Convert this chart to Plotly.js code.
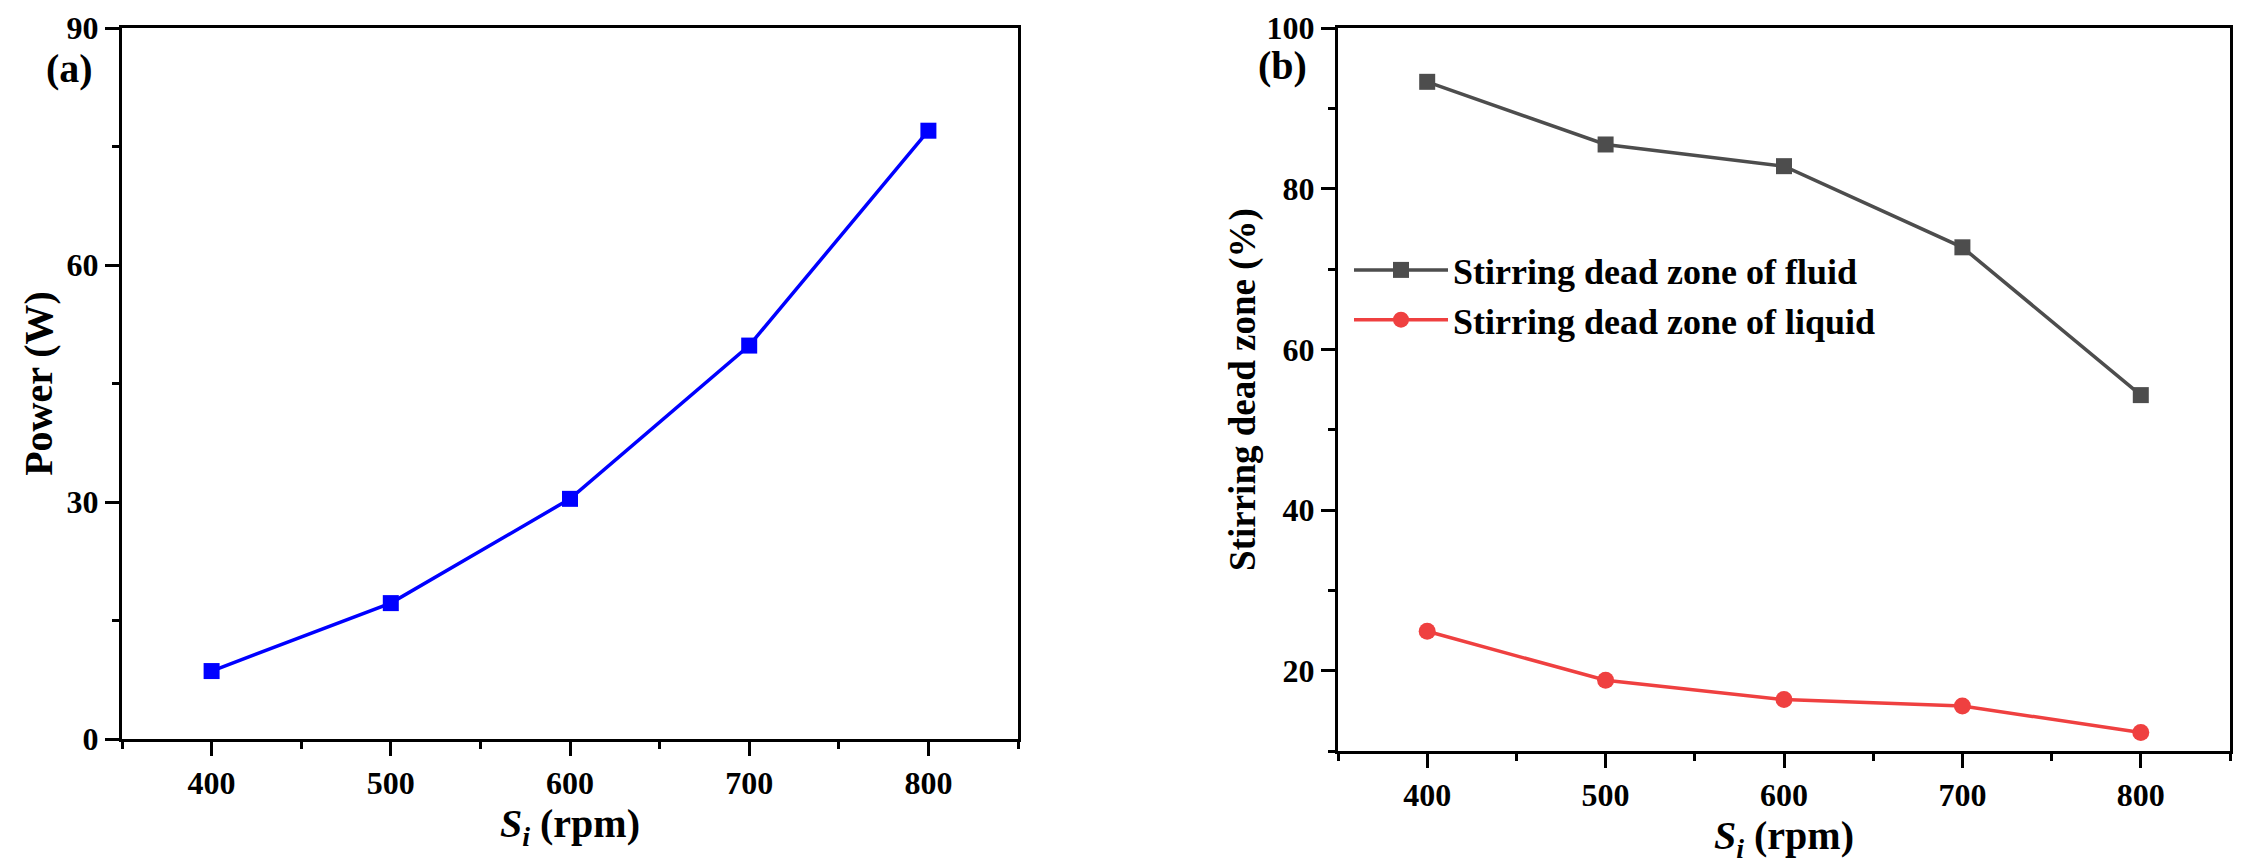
<!DOCTYPE html>
<html>
<head>
<meta charset="utf-8">
<script src="https://cdn.plot.ly/plotly-3.0.1.min.js"></script>
<style>
  html, body { margin: 0; padding: 0; background: #fff; }
  #graph { width: 2248px; height: 867px; }
</style>
</head>
<body>
<div id="graph"></div>
<script>
// stirring speed (rpm)
var speed = [400, 500, 600, 700, 800];

// (a) power consumption (W)
var power = [8.6, 17.2, 30.4, 49.8, 77.0];

// (b) stirring dead zone (%)
var deadFluid = [93.3, 85.5, 82.8, 72.7, 54.3];
var deadLiquid = [24.9, 18.8, 16.4, 15.6, 12.3];

var seriesNames = ['Stirring dead zone of fluid', 'Stirring dead zone of liquid'];

var FONT = '"Liberation Serif", "Times New Roman", serif';
var W = 2248, H = 867;

function px(x){ return x / W; }
function py(y){ return (H - y) / H; }

var trace1 = {
  x: speed, y: power,
  mode: 'lines+markers', type: 'scatter',
  xaxis: 'x', yaxis: 'y',
  line: {color: '#0000ff', width: 3.5},
  marker: {symbol: 'square', size: 16, color: '#0000ff'},
  showlegend: false
};

var trace2 = {
  x: speed, y: deadFluid,
  mode: 'lines+markers', type: 'scatter',
  xaxis: 'x2', yaxis: 'y2',
  name: seriesNames[0],
  line: {color: '#4d4d4d', width: 3.5},
  marker: {symbol: 'square', size: 16, color: '#4d4d4d'}
};

var trace3 = {
  x: speed, y: deadLiquid,
  mode: 'lines+markers', type: 'scatter',
  xaxis: 'x2', yaxis: 'y2',
  name: seriesNames[1],
  line: {color: '#ef4040', width: 3.5},
  marker: {symbol: 'circle', size: 17, color: '#ef4040'}
};

var data = [trace1, trace2, trace3];

function baseAxis(){
  return {
    showline: true, linecolor: '#000', linewidth: 3, mirror: true,
    ticks: 'outside', ticklen: 14, tickwidth: 3, tickcolor: '#000',
    showgrid: false, zeroline: false,
    tickfont: {family: FONT, size: 32, color: '#000', weight: 'bold'},
    fixedrange: true
  };
}

var xa = baseAxis();
xa.domain = [px(122), px(1018)];
xa.range = [350, 850];
xa.tick0 = 400; xa.dtick = 100;
xa.minor = {ticks: 'outside', ticklen: 7, tickwidth: 3, tickcolor: '#000', dtick: 50, tick0: 350};
xa.anchor = 'y';
xa.title = {text: '<i>S</i><sub><i>i</i></sub> (rpm)', font: {family: FONT, size: 40, color: '#000', weight: 'bold'}, standoff: 6};

var ya = baseAxis();
ya.domain = [py(739), py(28)];
ya.range = [0, 90];
ya.tick0 = 0; ya.dtick = 30;
ya.minor = {ticks: 'outside', ticklen: 7, tickwidth: 3, tickcolor: '#000', dtick: 15};
ya.anchor = 'x';
ya.title = {text: 'Power (W)', font: {family: FONT, size: 40, color: '#000', weight: 'bold'}, standoff: 2};

var xb = baseAxis();
xb.domain = [px(1338), px(2230)];
xb.range = [350, 850];
xb.tick0 = 400; xb.dtick = 100;
xb.minor = {ticks: 'outside', ticklen: 7, tickwidth: 3, tickcolor: '#000', dtick: 50, tick0: 350};
xb.anchor = 'y2';
xb.title = {text: '<i>S</i><sub><i>i</i></sub> (rpm)', font: {family: FONT, size: 40, color: '#000', weight: 'bold'}, standoff: 6};

var yb = baseAxis();
yb.domain = [py(751), py(28)];
yb.range = [10, 100];
yb.tick0 = 0; yb.dtick = 20;
yb.minor = {ticks: 'outside', ticklen: 7, tickwidth: 3, tickcolor: '#000', dtick: 10};
yb.anchor = 'x2';
yb.title = {text: 'Stirring dead zone (%)', font: {family: FONT, size: 37, color: '#000', weight: 'bold'}, standoff: 0};

var layout = {
  width: W, height: H,
  margin: {l: 0, r: 0, t: 0, b: 0},
  paper_bgcolor: '#fff', plot_bgcolor: '#fff',
  font: {family: FONT, color: '#000'},
  xaxis: xa, yaxis: ya, xaxis2: xb, yaxis2: yb,
  showlegend: true,
  legend: {
    x: px(1349), y: py(240), xanchor: 'left', yanchor: 'top',
    bgcolor: 'rgba(0,0,0,0)', borderwidth: 0,
    font: {family: FONT, size: 36, color: '#000', weight: 'bold'},
    itemwidth: 94, tracegroupgap: 0
  },
  annotations: [
    {text: '(a)', xref: 'paper', yref: 'paper', x: px(69), y: py(68), showarrow: false,
     xanchor: 'center', yanchor: 'middle', font: {family: FONT, size: 40, color: '#000', weight: 'bold'}},
    {text: '(b)', xref: 'paper', yref: 'paper', x: px(1282), y: py(65), showarrow: false,
     xanchor: 'center', yanchor: 'middle', font: {family: FONT, size: 40, color: '#000', weight: 'bold'}}
  ]
};

Plotly.newPlot('graph', data, layout, {staticPlot: true, displayModeBar: false});
</script>
</body>
</html>
